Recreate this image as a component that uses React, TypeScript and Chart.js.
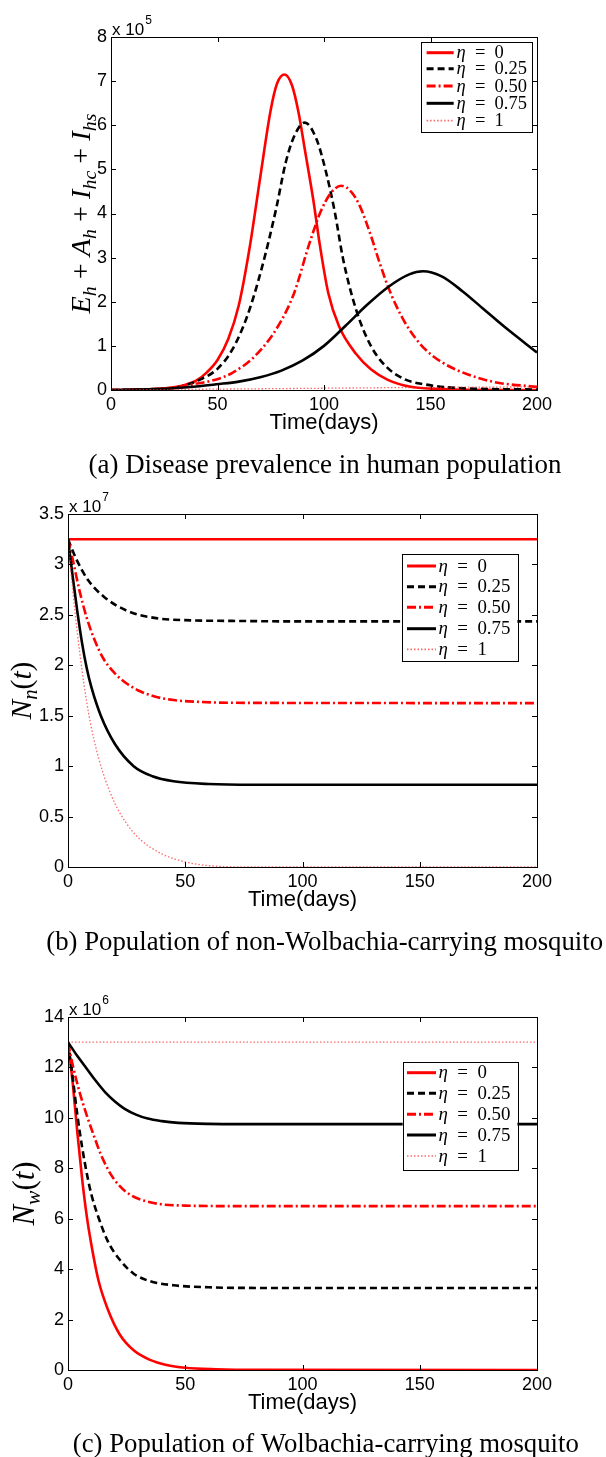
import React, { useEffect, useRef } from 'react';
import { Chart, registerables } from 'chart.js';

Chart.register(...registerables);

// ---------- shared labels ----------
const seriesLabels = ['η = 0', 'η = 0.25', 'η = 0.50', 'η = 0.75', 'η = 1'];
const xTicks = [0, 50, 100, 150, 200];
const xTitle = 'Time(days)';

// ---------- (a) disease prevalence (units of 1e5) ----------
const aYTicks = [0, 1, 2, 3, 4, 5, 6, 7, 8];
const prevDaysEta0 = [0, 10, 20, 30, 35, 40, 45, 50, 55, 60, 65, 70, 75, 78, 81.5, 85, 88, 91, 95, 98, 102, 107, 115, 122, 130, 140, 155, 170, 200];
const prevEta0 = [0, 0.005, 0.02, 0.07, 0.12, 0.21, 0.4, 0.68, 1.15, 1.92, 3.2, 4.8, 6.35, 6.95, 7.15, 6.9, 6.3, 5.45, 4.3, 3.3, 2.2, 1.45, 0.82, 0.47, 0.23, 0.08, 0.02, 0.005, 0];
const prevDaysEta25 = [0, 10, 20, 30, 42, 50, 57, 64, 71, 77.5, 82, 86, 91, 96.5, 101, 105, 109, 115, 122, 129, 138, 147, 165, 200];
const prevEta25 = [0, 0.005, 0.02, 0.05, 0.24, 0.48, 0.92, 1.68, 2.8, 4.1, 5.15, 5.75, 6.06, 5.68, 4.93, 4.05, 2.96, 1.83, 1.0, 0.54, 0.24, 0.13, 0.04, 0.01];
const prevDaysEta50 = [0, 20, 30, 38.6, 49.5, 57, 67.6, 78.5, 86, 93, 98.5, 103, 108, 113, 117, 122, 126, 130, 134, 138, 143, 148, 155, 165, 180, 200];
const prevEta50 = [0, 0.02, 0.06, 0.13, 0.24, 0.39, 0.77, 1.45, 2.2, 3.3, 4.05, 4.45, 4.63, 4.48, 4.15, 3.5, 2.9, 2.35, 1.9, 1.53, 1.17, 0.9, 0.64, 0.4, 0.18, 0.07];
const prevDaysEta75 = [0, 20, 29.6, 40, 49.5, 60, 70, 80, 90, 100, 110, 120, 130, 140, 146.5, 155, 165, 175, 185, 200];
const prevEta75 = [0, 0.02, 0.04, 0.08, 0.13, 0.19, 0.29, 0.44, 0.67, 1.0, 1.45, 1.92, 2.33, 2.62, 2.69, 2.58, 2.24, 1.83, 1.42, 0.85];
const prevDaysEta100 = [0, 50, 100, 150, 200];
const prevEta100 = [0, 0.02, 0.04, 0.06, 0.07];

// ---------- (b) non-Wolbachia mosquitoes (units of 1e7) ----------
const bYTicks = [0, 0.5, 1, 1.5, 2, 2.5, 3, 3.5];
const nnDaysEta0 = [0, 200];
const nnEta0 = [3.25, 3.25];
const nnDaysEta25 = [0, 3.8, 8.7, 15.3, 25.2, 36.8, 53, 70, 100, 200];
const nnEta25 = [3.25, 3.04, 2.84, 2.68, 2.54, 2.47, 2.445, 2.44, 2.435, 2.435];
const nnDaysEta50 = [0, 2, 5, 8, 11, 15, 20, 25, 30, 37, 45, 55, 70, 200];
const nnEta50 = [3.25, 3.05, 2.73, 2.47, 2.27, 2.07, 1.92, 1.82, 1.75, 1.69, 1.655, 1.638, 1.628, 1.625];
const nnDaysEta75 = [0, 2, 4, 6, 8, 10, 14, 20, 28, 36, 45, 60, 80, 200];
const nnEta75 = [3.25, 2.88, 2.53, 2.22, 1.97, 1.78, 1.5, 1.22, 1.0, 0.9, 0.85, 0.823, 0.816, 0.815];
const nnDaysEta100 = [0, 2, 4, 6, 8, 11, 15, 20, 25, 30, 40, 50, 62, 80, 200];
const nnEta100 = [3.25, 2.75, 2.32, 1.95, 1.63, 1.27, 0.93, 0.63, 0.43, 0.29, 0.13, 0.05, 0.01, 0, 0];

// ---------- (c) Wolbachia-carrying mosquitoes (units of 1e6) ----------
const cYTicks = [0, 2, 4, 6, 8, 10, 12, 14];
const nwDaysEta0 = [0, 2, 4, 6, 8, 10, 13, 17, 22, 28, 35, 42, 50, 63, 80, 200];
const nwEta0 = [13, 11.4, 9.4, 7.6, 6.1, 4.95, 3.55, 2.4, 1.42, 0.78, 0.4, 0.2, 0.09, 0.03, 0.005, 0];
const nwDaysEta25 = [0, 2, 4, 6, 8, 10, 13, 17, 22, 28, 35, 45, 60, 80, 200];
const nwEta25 = [13, 11.6, 10.1, 8.85, 7.8, 6.95, 6.05, 5.1, 4.38, 3.82, 3.52, 3.36, 3.28, 3.255, 3.25];
const nwDaysEta50 = [0, 2, 5, 8, 11, 14, 18, 22, 27, 33, 40, 50, 70, 200];
const nwEta50 = [13, 12.1, 11.0, 10.1, 9.3, 8.55, 7.8, 7.3, 6.92, 6.7, 6.57, 6.52, 6.5, 6.5];
const nwDaysEta75 = [0, 4, 8, 12, 16, 20, 24, 29, 34, 40, 47, 60, 80, 200];
const nwEta75 = [13, 12.45, 11.95, 11.45, 11.0, 10.65, 10.37, 10.13, 9.97, 9.87, 9.8, 9.76, 9.75, 9.75];
const nwDaysEta100 = [0, 200];
const nwEta100 = [13, 13];

// ---------- styles ----------
const seriesColors = ['#ff0000', '#000000', '#ff0000', '#000000', 'rgba(255,40,40,0.7)'];
const seriesWidths = [2.6, 2.6, 2.6, 2.6, 1.3];
const seriesDashes: number[][] = [[], [7, 4], [9, 3, 2, 3], [], [1.5, 2]];

const SANS = '"Liberation Sans", Arial, sans-serif';
const SERIF = '"Liberation Serif", "Times New Roman", serif';
const X_AXIS_H = 30;
const TICK = 5;
const W = 606;

type Seg = { t: string; it?: boolean; sub?: boolean; sup?: boolean };
type Area = { l: number; t: number; r: number; b: number };
type Spec = {
  key: string;
  top: number;
  height: number;
  area: Area;
  yTicks: number[];
  exp: string;
  yTitle: Seg[];
  yTitleLen: number;
  yTitleX: number;
  legend: { l: number; t: number; r: number; b: number; rows: number[]; lx0: number; lx1: number; tx: number; tw: number };
  caption: string;
  capW: number;
  capX: number;
  capY: number;
  series: { days: number[]; vals: number[] }[];
};

const specs: Spec[] = [
  {
    key: 'a', top: 0, height: 485,
    area: { l: 111, t: 37, r: 537, b: 390 },
    yTicks: aYTicks, exp: '5',
    yTitle: [
      { t: 'E', it: true }, { t: 'h', it: true, sub: true }, { t: ' + ' },
      { t: 'A', it: true }, { t: 'h', it: true, sub: true }, { t: ' + ' },
      { t: 'I', it: true }, { t: 'hc', it: true, sub: true }, { t: ' + ' },
      { t: 'I', it: true }, { t: 'hs', it: true, sub: true },
    ],
    yTitleLen: 200, yTitleX: 90,
    legend: { l: 421, t: 42, r: 532, b: 132, rows: [52.7, 68.8, 86, 103.3, 120.7], lx0: 426.6, lx1: 453.7, tx: 456.5, tw: 70.5 },
    caption: '(a) Disease prevalence in human population', capW: 473, capX: 325, capY: 466,
    series: [
      { days: prevDaysEta0, vals: prevEta0 },
      { days: prevDaysEta25, vals: prevEta25 },
      { days: prevDaysEta50, vals: prevEta50 },
      { days: prevDaysEta75, vals: prevEta75 },
      { days: prevDaysEta100, vals: prevEta100 },
    ],
  },
  {
    key: 'b', top: 485, height: 490,
    area: { l: 68, t: 29, r: 537, b: 382 },
    yTicks: bYTicks, exp: '7',
    yTitle: [{ t: 'N', it: true }, { t: 'n', it: true, sub: true }, { t: '(' }, { t: 't', it: true }, { t: ')' }],
    yTitleLen: 58, yTitleX: 31,
    legend: { l: 401.5, t: 69.3, r: 517.4, b: 176.7, rows: [81, 101.7, 122.3, 143.7, 164.3], lx0: 407, lx1: 436, tx: 438.5, tw: 72 },
    caption: '(b) Population of non-Wolbachia-carrying mosquito', capW: 557, capX: 324.7, capY: 458,
    series: [
      { days: nnDaysEta0, vals: nnEta0 },
      { days: nnDaysEta25, vals: nnEta25 },
      { days: nnDaysEta50, vals: nnEta50 },
      { days: nnDaysEta75, vals: nnEta75 },
      { days: nnDaysEta100, vals: nnEta100 },
    ],
  },
  {
    key: 'c', top: 975, height: 482,
    area: { l: 68, t: 42, r: 537, b: 395 },
    yTicks: cYTicks, exp: '6',
    yTitle: [{ t: 'N', it: true }, { t: 'w', it: true, sub: true }, { t: '(' }, { t: 't', it: true }, { t: ')' }],
    yTitleLen: 64, yTitleX: 34,
    legend: { l: 402.7, t: 86.7, r: 517.4, b: 194.3, rows: [97.7, 118.3, 139.3, 160, 181], lx0: 407, lx1: 436, tx: 438.5, tw: 72 },
    caption: '(c) Population of Wolbachia-carrying mosquito', capW: 506, capX: 325.8, capY: 470,
    series: [
      { days: nwDaysEta0, vals: nwEta0 },
      { days: nwDaysEta25, vals: nwEta25 },
      { days: nwDaysEta50, vals: nwEta50 },
      { days: nwDaysEta75, vals: nwEta75 },
      { days: nwDaysEta100, vals: nwEta100 },
    ],
  },
];

function segFont(size: number, s: Seg, family: string) {
  const sz = s.sub || s.sup ? size * 0.7 : size;
  return `${s.it ? 'italic ' : ''}${sz}px ${family}`;
}
function measureSegs(ctx: CanvasRenderingContext2D, segs: Seg[], size: number, family: string) {
  let w = 0;
  for (const s of segs) {
    ctx.font = segFont(size, s, family);
    w += ctx.measureText(s.t).width;
  }
  return w;
}
function drawSegs(ctx: CanvasRenderingContext2D, segs: Seg[], size: number, family: string, x: number, y: number) {
  let cx = x;
  for (const s of segs) {
    ctx.font = segFont(size, s, family);
    const dy = s.sub ? size * 0.2 : s.sup ? -size * 0.45 : 0;
    ctx.fillText(s.t, cx, y + dy);
    cx += ctx.measureText(s.t).width;
  }
}
function fitSize(ctx: CanvasRenderingContext2D, segs: Seg[], family: string, target: number) {
  const w = measureSegs(ctx, segs, 100, family);
  return (100 * target) / w;
}
// math-like spacing around "=" (en spaces)
function labelSegs(label: string): Seg[] {
  return [{ t: label[0], it: true }, { t: label.slice(1).replace(/ /g, '\u2002') }];
}

function decorPlugin(s: Spec) {
  return {
    id: 'decor_' + s.key,
    afterDraw(chart: any) {
      const ctx: CanvasRenderingContext2D = chart.ctx;
      const a = chart.chartArea;
      const xs = chart.scales.x;
      const ys = chart.scales.y;
      const snap = (v: number) => Math.round(v) + 0.5;
      ctx.save();
      ctx.setLineDash([]);
      ctx.strokeStyle = '#000';
      ctx.lineWidth = 1;
      // inward ticks
      ctx.beginPath();
      for (const t of xs.ticks) {
        const px = snap(xs.getPixelForValue(t.value));
        ctx.moveTo(px, a.bottom);
        ctx.lineTo(px, a.bottom - TICK);
        ctx.moveTo(px, a.top);
        ctx.lineTo(px, a.top + TICK);
      }
      for (const t of ys.ticks) {
        const py = snap(ys.getPixelForValue(t.value));
        ctx.moveTo(a.left, py);
        ctx.lineTo(a.left + TICK, py);
        ctx.moveTo(a.right, py);
        ctx.lineTo(a.right - TICK, py);
      }
      ctx.stroke();
      // box
      ctx.strokeRect(snap(a.left), snap(a.top), Math.round(a.right) - Math.round(a.left), Math.round(a.bottom) - Math.round(a.top));

      // legend
      const L = s.legend;
      ctx.fillStyle = '#fff';
      ctx.fillRect(L.l, L.t, L.r - L.l, L.b - L.t);
      ctx.strokeStyle = '#000';
      ctx.lineWidth = 1;
      ctx.strokeRect(snap(L.l), snap(L.t), Math.round(L.r - L.l), Math.round(L.b - L.t));
      const legSize = fitSize(ctx, labelSegs(seriesLabels[1]), SERIF, L.tw);
      chart.data.datasets.forEach((ds: any, i: number) => {
        const y = L.rows[i];
        ctx.beginPath();
        ctx.setLineDash(seriesDashes[i]);
        ctx.strokeStyle = seriesColors[i];
        ctx.lineWidth = seriesWidths[i] + 0.4;
        ctx.moveTo(L.lx0, y);
        ctx.lineTo(L.lx1, y);
        ctx.stroke();
        ctx.setLineDash([]);
        ctx.fillStyle = '#000';
        ctx.textBaseline = 'alphabetic';
        ctx.textAlign = 'left';
        drawSegs(ctx, labelSegs(ds.label), legSize, SERIF, L.tx, y + legSize * 0.3);
      });

      // exponent label
      ctx.fillStyle = '#000';
      ctx.textAlign = 'left';
      ctx.textBaseline = 'alphabetic';
      ctx.font = `17px ${SANS}`;
      const base = 'x 10';
      ctx.fillText(base, a.left + 1, a.top - 2);
      const bw = ctx.measureText(base).width;
      ctx.font = `12px ${SANS}`;
      ctx.fillText(s.exp, a.left + 2 + bw, a.top - 13);

      // x title
      ctx.font = `22px ${SANS}`;
      ctx.textAlign = 'center';
      ctx.textBaseline = 'middle';
      ctx.fillText(xTitle, (a.left + a.right) / 2, a.bottom + 33);

      // y title (rotated)
      const ySize = fitSize(ctx, s.yTitle, SERIF, s.yTitleLen);
      ctx.save();
      ctx.translate(s.yTitleX, (a.top + a.bottom) / 2);
      ctx.rotate(-Math.PI / 2);
      ctx.textAlign = 'left';
      ctx.textBaseline = 'alphabetic';
      drawSegs(ctx, s.yTitle, ySize, SERIF, -s.yTitleLen / 2, 0);
      ctx.restore();

      // caption
      const capSegs: Seg[] = [{ t: s.caption }];
      const capSize = fitSize(ctx, capSegs, SERIF, s.capW);
      ctx.font = `${capSize}px ${SERIF}`;
      ctx.textAlign = 'center';
      ctx.textBaseline = 'middle';
      ctx.fillStyle = '#000';
      ctx.fillText(s.caption, s.capX, s.capY);
      ctx.restore();
    },
  };
}

function buildConfig(s: Spec): any {
  const datasets = s.series.map((ser, i) => ({
    label: seriesLabels[i],
    data: ser.days.map((d, j) => ({ x: d, y: ser.vals[j] })),
    borderColor: seriesColors[i],
    backgroundColor: seriesColors[i],
    borderWidth: seriesWidths[i],
    borderDash: seriesDashes[i],
    pointRadius: 0,
    fill: false,
    cubicInterpolationMode: 'monotone',
    order: 4 - i,
  }));
  const yMax = s.yTicks[s.yTicks.length - 1];
  const tickFont = { family: SANS, size: 18 };
  return {
    type: 'line',
    data: { datasets },
    options: {
      animation: false,
      responsive: false,
      maintainAspectRatio: false,
      devicePixelRatio: 1,
      events: [],
      layout: { padding: { left: 0, top: s.area.t, right: W - s.area.r, bottom: s.height - s.area.b - X_AXIS_H } },
      scales: {
        x: {
          type: 'linear',
          min: 0,
          max: 200,
          afterFit: (sc: any) => { sc.height = X_AXIS_H; },
          afterBuildTicks: (sc: any) => { sc.ticks = xTicks.map((v) => ({ value: v })); },
          grid: { display: false, drawTicks: false },
          border: { display: false },
          ticks: { font: tickFont, color: '#000', padding: 4, maxRotation: 0, autoSkip: false, callback: (v: any) => String(v) },
        },
        y: {
          type: 'linear',
          min: 0,
          max: yMax,
          afterFit: (sc: any) => { sc.width = s.area.l; },
          afterBuildTicks: (sc: any) => { sc.ticks = s.yTicks.map((v) => ({ value: v })); },
          grid: { display: false, drawTicks: false },
          border: { display: false },
          ticks: { font: tickFont, color: '#000', padding: 4, autoSkip: false, callback: (v: any) => String(v) },
        },
      },
      plugins: { legend: { display: false }, tooltip: { enabled: false } },
    },
    plugins: [decorPlugin(s)],
  };
}

export default function App() {
  const canvasRefs = useRef<(HTMLCanvasElement | null)[]>([]);
  useEffect(() => {
    const charts: Chart[] = [];
    specs.forEach((s, i) => {
      const c = canvasRefs.current[i];
      if (c) charts.push(new Chart(c, buildConfig(s)));
    });
    return () => charts.forEach((c) => c.destroy());
  }, []);
  return (
    <div style={{ position: 'absolute', left: 0, top: 0, width: W, height: 1457, background: '#fff', overflow: 'hidden' }}>
      {specs.map((s, i) => (
        <canvas
          key={s.key}
          ref={(el) => { canvasRefs.current[i] = el; }}
          width={W}
          height={s.height}
          style={{ position: 'absolute', left: 0, top: s.top, width: W, height: s.height }}
        />
      ))}
    </div>
  );
}
